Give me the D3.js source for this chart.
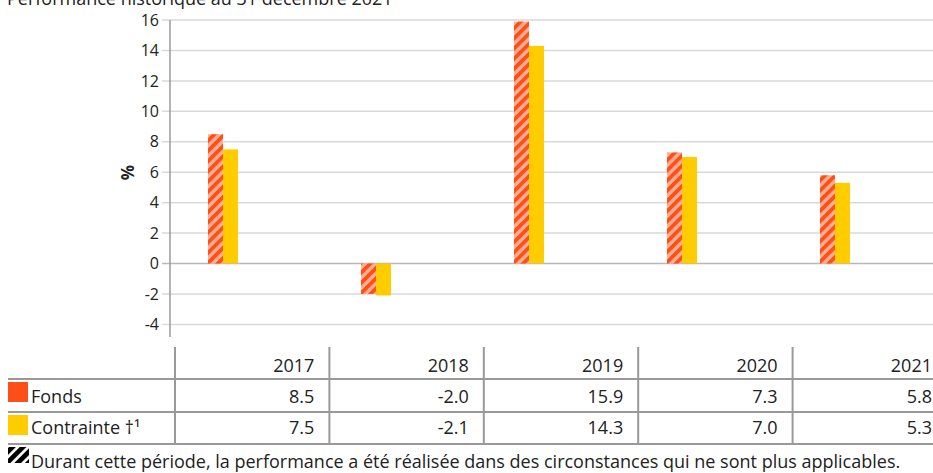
<!DOCTYPE html>
<html>
<head>
<meta charset="utf-8">
<script src="https://cdn.jsdelivr.net/npm/d3@7"></script>
<style>
  body { margin: 0; background: #fff; }
  svg { display: block; font-family: "Open Sans", Roboto, sans-serif; }
</style>
</head>
<body>
<div id="chart"></div>
<script>
// donnees du graphique
const annees = ["2017", "2018", "2019", "2020", "2021"];
const fonds = [8.5, -2.0, 15.9, 7.3, 5.8];
const contrainte = [7.5, -2.1, 14.3, 7.0, 5.3];
const ticksY = [-4, -2, 0, 2, 4, 6, 8, 10, 12, 14, 16];
const series = ["Fonds", "Contrainte †¹"];
const titre = "Performance historique au 31 décembre 2021";
const note = "Durant cette période, la performance a été réalisée dans des circonstances qui ne sont plus applicables.";

const width = 933, height = 473;
const rouge = "#ff4e17", saumon = "#ffb095", jaune = "#ffcc00";
const texte = "#222";
const police = "'Open Sans', sans-serif";

const svg = d3.select("#chart").append("svg")
  .attr("width", width)
  .attr("height", height);

// motifs hachures
const defs = svg.append("defs");
const hach = defs.append("pattern")
  .attr("id", "hach")
  .attr("patternUnits", "userSpaceOnUse")
  .attr("width", 7.2).attr("height", 7.2)
  .attr("patternTransform", "rotate(45)");
hach.append("rect").attr("width", 7.2).attr("height", 7.2).attr("fill", saumon);
hach.append("rect").attr("width", 3.8).attr("height", 7.2).attr("fill", rouge);

const hachNoir = defs.append("pattern")
  .attr("id", "hachNoir")
  .attr("patternUnits", "userSpaceOnUse")
  .attr("width", 7.5).attr("height", 7.5)
  .attr("patternTransform", "rotate(45)");
hachNoir.append("rect").attr("width", 7.5).attr("height", 7.5).attr("fill", "#fff");
hachNoir.append("rect").attr("width", 4.8).attr("height", 7.5).attr("fill", "#000");

// titre (coupe en haut comme dans l'original)
svg.append("text")
  .attr("x", 7).attr("y", 4.5)
  .style("font-size", "18px")
  .style("fill", texte)
  .text(titre);

// echelles
const y = d3.scaleLinear().domain([-4, 16]).range([324.4, 20]);
const x = d3.scaleBand().domain(annees).range([146.5, 911.5]);
const xAxe = 170;
const barW = 15;

// grille
svg.append("g").selectAll("line")
  .data(ticksY)
  .enter()
  .append("line")
  .attr("x1", xAxe - 8)
  .attr("x2", width)
  .attr("y1", d => y(d))
  .attr("y2", d => y(d))
  .style("stroke", d => d === 0 ? "#b8b8b8" : "#d9d9d9")
  .style("stroke-width", 1.5);

// axe Y
const axeY = svg.append("g")
  .attr("transform", `translate(${xAxe},0)`)
  .call(d3.axisLeft(y).tickValues(ticksY).tickSize(0).tickPadding(11).tickFormat(d3.format("d")));
axeY.select(".domain").remove();
axeY.selectAll("text")
  .style("font-size", "16px")
  .style("font-family", police)
  .style("fill", texte)
  .text(d => String(d));

svg.append("line")
  .attr("x1", xAxe).attr("x2", xAxe)
  .attr("y1", y(16)).attr("y2", 337)
  .style("stroke", "#9a9a9a")
  .style("stroke-width", 1.5);

svg.append("text")
  .attr("transform", `translate(134,${(y(16) + 337) / 2 - 6}) rotate(-90)`)
  .attr("text-anchor", "middle")
  .style("font-size", "17px")
  .style("font-weight", "bold")
  .style("fill", texte)
  .text("%");

// barres
const cx = d => x(d) + x.bandwidth() / 2;
svg.append("g").selectAll("rect")
  .data(annees.map((a, i) => ({ a, v: fonds[i] })))
  .enter()
  .append("rect")
  .attr("x", d => cx(d.a) - barW)
  .attr("width", barW)
  .attr("y", d => y(Math.max(0, d.v)))
  .attr("height", d => Math.abs(y(d.v) - y(0)))
  .style("fill", "url(#hach)");

svg.append("g").selectAll("rect")
  .data(annees.map((a, i) => ({ a, v: contrainte[i] })))
  .enter()
  .append("rect")
  .attr("x", d => cx(d.a))
  .attr("width", barW)
  .attr("y", d => y(Math.max(0, d.v)))
  .attr("height", d => Math.abs(y(d.v) - y(0)))
  .style("fill", jaune);

// tableau
const colX = d3.scaleBand().domain(annees).range([175, 175 + 154.4 * 5]);
const lignesY = [379, 412, 444];
const gris = "#999";

svg.append("g").selectAll("line")
  .data(lignesY)
  .enter()
  .append("line")
  .attr("x1", 8).attr("x2", width)
  .attr("y1", d => d).attr("y2", d => d)
  .style("stroke", gris)
  .style("stroke-width", 2);

svg.append("g").selectAll("line")
  .data(annees)
  .enter()
  .append("line")
  .attr("x1", d => colX(d)).attr("x2", d => colX(d))
  .attr("y1", 347).attr("y2", 444)
  .style("stroke", gris)
  .style("stroke-width", 2);

const cellule = (yBase, vals, fmt) => {
  svg.append("g").selectAll("text")
    .data(annees.map((a, i) => ({ a, v: vals[i] })))
    .enter()
    .append("text")
    .attr("x", d => colX(d.a) + colX.bandwidth() - 15)
    .attr("y", yBase)
    .attr("text-anchor", "end")
    .style("font-size", "18px")
    .style("fill", texte)
    .text(d => fmt(d));
};
cellule(372, annees, d => d.a);
cellule(403, fonds, d => d.v.toFixed(1));
cellule(434, contrainte, d => d.v.toFixed(1));

// legende dans le tableau
const leg = [
  { nom: series[0], couleur: rouge, y: 382, base: 403 },
  { nom: series[1], couleur: jaune, y: 415, base: 434 }
];
leg.forEach(l => {
  svg.append("rect")
    .attr("x", 8).attr("y", l.y)
    .attr("width", 20).attr("height", 20)
    .style("fill", l.couleur);
  svg.append("text")
    .attr("x", 31).attr("y", l.base)
    .style("font-size", "18px")
    .style("fill", texte)
    .text(l.nom);
});

// note de bas
svg.append("rect")
  .attr("x", 8).attr("y", 447)
  .attr("width", 21).attr("height", 16)
  .style("fill", "url(#hachNoir)");
svg.append("text")
  .attr("x", 31).attr("y", 468)
  .style("font-size", "18px")
  .style("fill", texte)
  .text(note);
</script>
</body>
</html>
